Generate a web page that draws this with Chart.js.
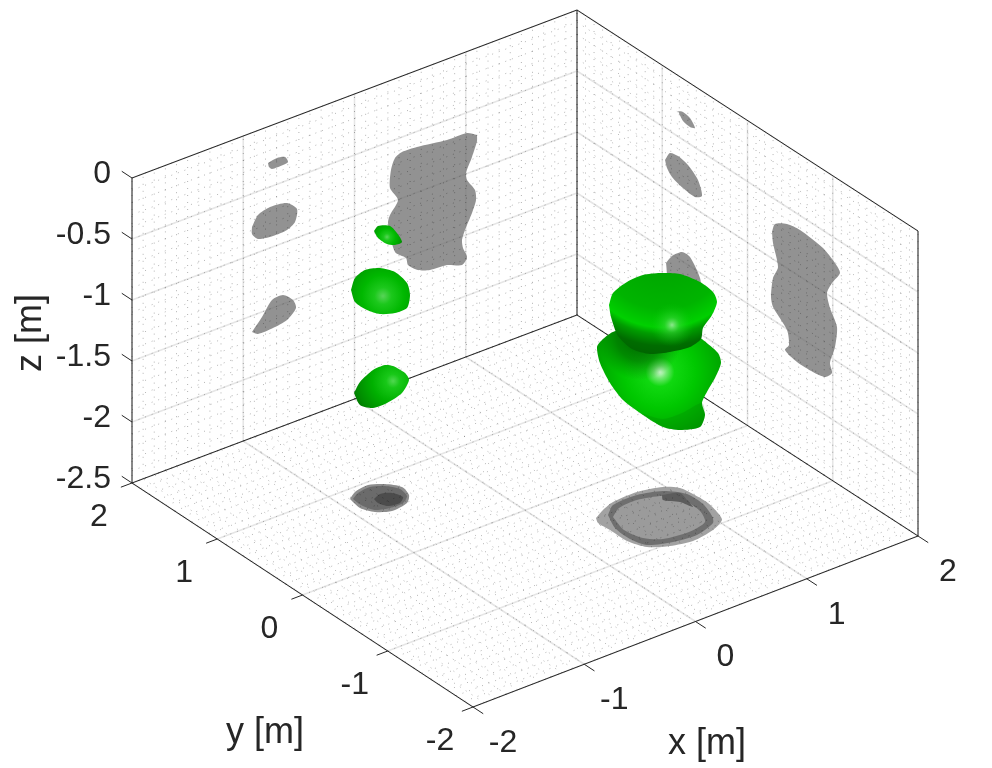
<!DOCTYPE html>
<html>
<head>
<meta charset="utf-8">
<style>
html, body { margin: 0; padding: 0; background: #fff; }
canvas { display: block; }
</style>
<script src="https://cdn.jsdelivr.net/npm/chart.js@4/dist/chart.umd.js"></script>
</head>
<body>
<canvas id="myChart" width="992" height="768"></canvas>
<script>
/** tick values, metres */
var xTicks = [-2, -1, 0, 1, 2]
var yTicks = [-2, -1, 0, 1, 2]
var zTicks = [0, -0.5, -1, -1.5, -2, -2.5]
var xTickLabels = ['-2', '-1', '0', '1', '2']
var yTickLabels = ['-2', '-1', '0', '1', '2']
var zTickLabels = ['0', '-0.5', '-1', '-1.5', '-2', '-2.5']
var xMinorTicks = [-2, -1.9, -1.8, -1.7, -1.6, -1.5, -1.4, -1.3, -1.2, -1.1, -1, -0.9, -0.8, -0.7, -0.6, -0.5, -0.4, -0.3, -0.2, -0.1, 0, 0.1, 0.2, 0.3, 0.4, 0.5, 0.6, 0.7, 0.8, 0.9, 1, 1.1, 1.2, 1.3, 1.4, 1.5, 1.6, 1.7, 1.8, 1.9, 2]
var yMinorTicks = xMinorTicks
var zMinorTicks = [0, -0.1, -0.2, -0.3, -0.4, -0.5, -0.6, -0.7, -0.8, -0.9, -1, -1.1, -1.2, -1.3, -1.4, -1.5, -1.6, -1.7, -1.8, -1.9, -2, -2.1, -2.2, -2.3, -2.4, -2.5]

/** outlines, in view plane units [u, v] */
/* shadows on the y = 2 wall */
var shadowLeftBig = [[477, 135], [477, 141], [472, 157], [466, 173], [467, 180], [475, 190], [476, 200], [472, 213], [465, 230], [462, 240], [463, 248], [467, 257], [462, 265], [447, 265], [430, 270], [418, 270], [408, 265], [406, 258], [395, 252], [388, 223], [390, 215], [398, 200], [390, 188], [391, 170], [395, 158], [402, 152], [417, 147], [447, 140], [467, 133]]
var shadowLeftSmall = [[268, 163], [277, 158], [285, 157], [288, 162], [283, 165], [272, 169], [269, 167]]
var shadowLeftMid = [[252, 227], [258, 215], [270, 207], [287, 203], [297, 209], [295, 222], [287, 230], [273, 236], [258, 239], [252, 234]]
var shadowLeftLow = [[252, 332], [262, 317], [272, 300], [283, 295], [293, 300], [296, 308], [287, 320], [273, 328], [258, 334]]
/* shadows on the x = 2 wall */
var shadowRightSmall = [[678, 111], [683, 112], [690, 118], [695, 128], [690, 127], [683, 121]]
var shadowRightMid = [[665, 160], [670, 153], [678, 156], [688, 165], [698, 180], [702, 196], [695, 197], [683, 188], [672, 177], [667, 168]]
var shadowRightLow = [[666, 263], [672, 256], [682, 252], [690, 257], [700, 278], [700, 290], [670, 285]]
var shadowRightBig = [[772, 232], [775, 224], [787, 224], [800, 230], [823, 248], [835, 263], [840, 273], [832, 283], [827, 293], [830, 308], [837, 327], [835, 347], [830, 363], [832, 373], [825, 377], [813, 372], [797, 362], [785, 350], [789, 345], [787, 330], [773, 307], [771, 297], [773, 278], [778, 267], [773, 243]]
/* shadows on the floor */
var floorBigOuter = [[596, 518], [603, 510], [613, 502], [637, 492], [663, 487], [680, 488], [693, 494], [708, 503], [718, 513], [722, 520], [713, 530], [693, 541], [670, 546], [647, 547], [627, 541], [610, 530], [598, 523]]
var floorBigRing = [[608, 515], [613, 505], [637, 495], [663, 491], [687, 494], [703, 504], [712, 516], [713, 523], [697, 535], [673, 542], [647, 545], [630, 539], [615, 528]]
var floorBigInner = [[613, 517], [619, 508], [637, 500], [663, 496], [685, 501], [700, 511], [705, 522], [689, 532], [663, 539], [643, 538], [624, 530]]
var floorBigStrip = [[662, 495], [680, 493], [687, 500], [693, 507], [680, 502], [663, 500]]
var floorSmallOuter = [[350, 499], [355, 492], [368, 485], [385, 484], [402, 487], [409, 495], [407, 503], [392, 511], [375, 512], [360, 508]]
var floorSmallMid = [[353, 499], [358, 493], [370, 487], [385, 486], [400, 489], [407, 496], [403, 503], [390, 508], [375, 510], [361, 505]]
var floorSmallInner = [[374, 499], [380, 494], [392, 493], [403, 497], [400, 503], [388, 506], [378, 503]]
/* green surfaces */
var blobTiny = [[374, 231], [378, 226], [390, 226], [397, 233], [402, 242], [395, 245], [387, 244], [378, 238]]
var blobMid = [[351, 290], [355, 278], [365, 270], [380, 268], [395, 272], [407, 283], [410, 295], [407, 308], [395, 313], [380, 314], [367, 310], [355, 302]]
var blobLow = [[354, 393], [360, 382], [373, 370], [385, 365], [393, 366], [405, 373], [409, 380], [402, 393], [387, 403], [373, 408], [360, 405]]
var blobBigLower = [[702, 339], [718, 353], [721, 363], [715, 378], [708, 390], [702, 403], [705, 415], [700, 427], [680, 430], [663, 427], [643, 415], [623, 400], [610, 383], [600, 363], [597, 347], [602, 340], [613, 332], [640, 325], [680, 325]]
var blobBigFoot = [[640, 413], [663, 419], [682, 413], [702, 403], [705, 415], [700, 427], [680, 430], [663, 427]]
var blobBigUpper = [[609, 305], [613, 293], [627, 282], [643, 275], [660, 273], [680, 274], [700, 282], [713, 292], [717, 302], [712, 315], [703, 328], [701, 339], [690, 347], [670, 352], [650, 354], [632, 349], [618, 336], [611, 317]]

var fontName = '"Liberation Sans", Arial, sans-serif'
var textColor = '#262626'

/* floor corners of the box on the view plane, height per metre */
var view = {
    c00: [473, 707],
    c10: [918, 536],
    c01: [132, 483],
    c11: [577, 315],
    zUnit: 122
}

function project(x, y, z) {
    var s = (x + 2) / 4
    var t = (y + 2) / 4
    var u = (1 - s) * (1 - t) * view.c00[0] + s * (1 - t) * view.c10[0] + (1 - s) * t * view.c01[0] + s * t * view.c11[0]
    var v = (1 - s) * (1 - t) * view.c00[1] + s * (1 - t) * view.c10[1] + (1 - s) * t * view.c01[1] + s * t * view.c11[1]
    return { x: u, y: v - (z + 2.5) * view.zUnit }
}

/* one dataset holding many separate lines, NaN breaks the path */
function linesDataset(lines, color, width, dash) {
    var pts = []
    lines.forEach(function (l) {
        pts.push(project(l[0], l[1], l[2]))
        pts.push(project(l[3], l[4], l[5]))
        pts.push({ x: NaN, y: NaN })
    })
    return {
        data: pts,
        showLine: true,
        fill: false,
        spanGaps: false,
        borderColor: color,
        borderWidth: width,
        borderDash: dash || [],
        pointRadius: 0,
        tension: 0
    }
}

function shapeDataset(outline, fillStyle, tension) {
    var pts = outline.map(function (p) { return { x: p[0], y: p[1] } })
    pts.push({ x: outline[0][0], y: outline[0][1] })
    return {
        data: pts,
        showLine: true,
        fill: 'shape',
        backgroundColor: fillStyle,
        borderColor: 'rgba(0,0,0,0)',
        borderWidth: 0,
        pointRadius: 0,
        tension: tension === undefined ? 0.25 : tension
    }
}

/* scales have no size yet on the first pass, fall back to the last stop */
function radial(cu, cv, r, stops) {
    return function (c) {
        var chart = c.chart
        var px = chart.scales.x.getPixelForValue(cu)
        var py = chart.scales.y.getPixelForValue(cv)
        if (!isFinite(px) || !isFinite(py)) return stops[stops.length - 1][1]
        var g = chart.ctx.createRadialGradient(px, py, 0, px, py, r)
        stops.forEach(function (s) { g.addColorStop(s[0], s[1]) })
        return g
    }
}

/* grid lines on the floor and the two back walls */
var minorLines = []
var majorLines = []
xMinorTicks.forEach(function (x) {
    minorLines.push([x, -2, -2.5, x, 2, -2.5])
    minorLines.push([x, 2, -2.5, x, 2, 0])
})
yMinorTicks.forEach(function (y) {
    minorLines.push([-2, y, -2.5, 2, y, -2.5])
    minorLines.push([2, y, -2.5, 2, y, 0])
})
zMinorTicks.forEach(function (z) {
    minorLines.push([-2, 2, z, 2, 2, z])
    minorLines.push([2, 2, z, 2, -2, z])
})
xTicks.forEach(function (x) {
    majorLines.push([x, -2, -2.5, x, 2, -2.5])
    majorLines.push([x, 2, -2.5, x, 2, 0])
})
yTicks.forEach(function (y) {
    majorLines.push([-2, y, -2.5, 2, y, -2.5])
    majorLines.push([2, y, -2.5, 2, y, 0])
})
zTicks.forEach(function (z) {
    majorLines.push([-2, 2, z, 2, 2, z])
    majorLines.push([2, 2, z, 2, -2, z])
})

/* box edges */
var boxLines = [
    [-2, 2, -2.5, -2, 2, 0],
    [-2, 2, 0, 2, 2, 0],
    [2, 2, 0, 2, -2, 0],
    [2, 2, -2.5, 2, 2, 0],
    [2, -2, -2.5, 2, -2, 0],
    [-2, 2, -2.5, -2, -2, -2.5],
    [-2, -2, -2.5, 2, -2, -2.5],
    [-2, 2, -2.5, 2, 2, -2.5],
    [2, 2, -2.5, 2, -2, -2.5]
]
/* tick marks stick out of the box */
xTicks.forEach(function (x) { boxLines.push([x, -2, -2.5, x, -2.12, -2.5]) })
yTicks.forEach(function (y) { boxLines.push([-2, y, -2.5, -2.1, y, -2.5]) })
zTicks.forEach(function (z) { boxLines.push([-2, 2, z, -2, 2.12, z]) })

var wallGrey = 'rgba(110,110,110,0.75)'
var greenBlobStops = [[0, '#58d458'], [0.2, '#1cc81c'], [0.5, '#00b800'], [0.8, '#00a000'], [1, '#007c00']]

/* painted in this order, later ones on top */
var layers = [
    linesDataset(majorLines, '#e6e6e6', 1.6),
    shapeDataset(shadowLeftBig, wallGrey),
    shapeDataset(shadowLeftSmall, wallGrey),
    shapeDataset(shadowLeftMid, wallGrey),
    shapeDataset(shadowLeftLow, wallGrey),
    shapeDataset(shadowRightSmall, wallGrey),
    shapeDataset(shadowRightMid, wallGrey),
    shapeDataset(shadowRightLow, wallGrey),
    shapeDataset(shadowRightBig, wallGrey),
    shapeDataset(floorBigOuter, '#a2a2a2'),
    shapeDataset(floorBigRing, '#6f6f6f'),
    shapeDataset(floorBigInner, '#9b9b9b'),
    shapeDataset(floorBigStrip, '#5c5c5c'),
    shapeDataset(floorSmallOuter, '#8e8e8e'),
    shapeDataset(floorSmallMid, '#6b6b6b'),
    shapeDataset(floorSmallInner, '#4c4c4c'),
    linesDataset(minorLines, 'rgba(0,0,0,0.3)', 1, [1, 6]),
    linesDataset(boxLines, '#262626', 1),
    shapeDataset(blobTiny, radial(387, 237, 17, greenBlobStops)),
    shapeDataset(blobMid, radial(383, 296, 42, greenBlobStops)),
    shapeDataset(blobLow, radial(393, 381, 46, [[0, '#50d850'], [0.15, '#18c818'], [0.45, '#00b000'], [0.8, '#008a00'], [1, '#006a00']])),
    shapeDataset(blobBigLower, radial(660, 372, 90, [[0, '#d0f8d0'], [0.07, '#70e870'], [0.16, '#10d810'], [0.4, '#00c800'], [0.7, '#00a400'], [1, '#008000']])),
    shapeDataset(blobBigFoot, 'rgba(0,110,0,0.18)'),
    /* shade thrown on the lower part by the upper part */
    shapeDataset(blobBigLower, radial(640, 338, 42, [[0, 'rgba(0,90,0,0.95)'], [0.55, 'rgba(0,100,0,0.6)'], [1, 'rgba(0,120,0,0)']])),
    shapeDataset(blobBigUpper, radial(663, 240, 115, [[0.29, '#00a800'], [0.6, '#00b400'], [0.76, '#00d000'], [0.82, '#009c00'], [0.92, '#006c00'], [1, '#006400']])),
    shapeDataset(blobBigUpper, radial(672, 325, 22, [[0, 'rgba(190,240,190,0.75)'], [0.35, 'rgba(80,225,80,0.4)'], [1, 'rgba(0,210,0,0)']]))
]
/* Chart.js paints the first dataset last */
var datasets = layers.slice().reverse()

var labelsPlugin = {
    id: 'axisLabels',
    afterDatasetsDraw: function (chart) {
        var ctx = chart.ctx
        var sx = chart.scales.x
        var sy = chart.scales.y
        ctx.save()
        ctx.fillStyle = textColor
        ctx.textBaseline = 'middle'
        ctx.font = '32px ' + fontName
        ctx.textAlign = 'right'
        zTicks.forEach(function (z, i) {
            var p = project(-2, 2, z)
            ctx.fillText(zTickLabels[i], sx.getPixelForValue(p.x) - 21, sy.getPixelForValue(p.y) - 4)
        })
        ctx.textAlign = 'center'
        yTicks.forEach(function (y, i) {
            var p = project(-2, y, -2.5)
            ctx.fillText(yTickLabels[i], sx.getPixelForValue(p.x) - 33, sy.getPixelForValue(p.y) + 34)
        })
        xTicks.forEach(function (x, i) {
            var p = project(x, -2, -2.5)
            ctx.fillText(xTickLabels[i], sx.getPixelForValue(p.x) + 30, sy.getPixelForValue(p.y) + 36)
        })
        ctx.font = '36px ' + fontName
        ctx.fillText('x [m]', 707, 744)
        ctx.fillText('y [m]', 265, 733)
        ctx.translate(31, 333)
        ctx.rotate(-Math.PI / 2)
        ctx.fillText('z [m]', 0, 0)
        ctx.restore()
    }
}

var myChart = new Chart(document.getElementById('myChart').getContext('2d'), {
    type: 'scatter',
    data: { datasets: datasets },
    options: {
        responsive: false,
        animation: false,
        layout: { padding: 0 },
        plugins: { legend: { display: false }, tooltip: { enabled: false } },
        scales: {
            x: { type: 'linear', display: false, min: 0, max: 992 },
            y: { type: 'linear', display: false, min: 0, max: 768, reverse: true }
        }
    },
    plugins: [labelsPlugin]
})
</script>
</body>
</html>
